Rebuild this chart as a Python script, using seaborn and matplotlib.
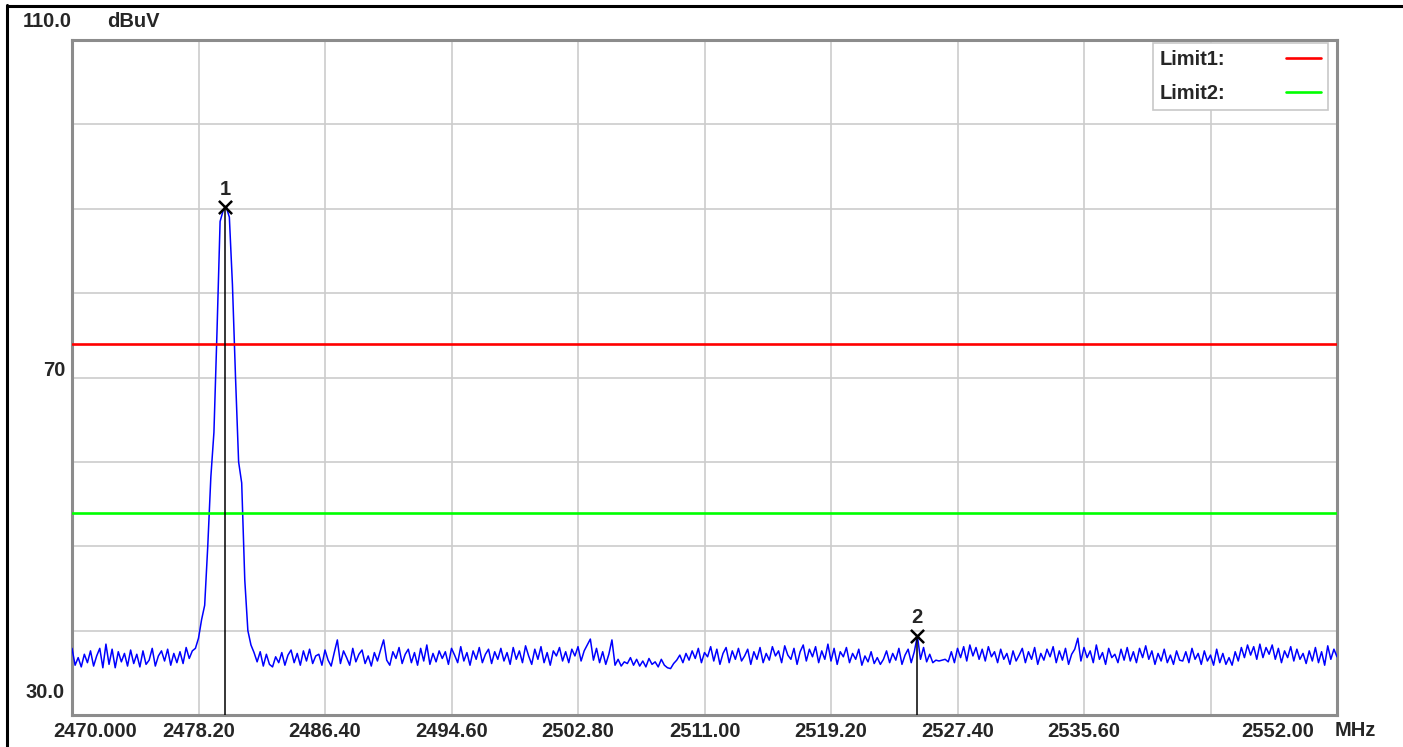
"""Spectrum analyser screenshot: 2.4 GHz band sweep with two markers and limit lines"""

import numpy as np
import seaborn as sns
import matplotlib.pyplot as plt
from matplotlib.lines import Line2D
from matplotlib.transforms import ScaledTranslation

# sweep settings
F_START = 2470.0
F_STOP = 2552.0
N_POINTS = 411

# trace level in dBuV (0.2 MHz per point)
NOISE_LOW = [
    37.9, 35.9, 36.8, 35.7, 37.2, 36.2, 37.6, 35.8, 37.0, 37.9, 35.6, 38.4, 36.0, 37.8, 35.6, 37.5, 36.3, 37.3, 35.8, 37.7,
    36.1, 37.2, 35.7, 37.6, 36.0, 36.5, 37.9, 35.8, 37.0, 37.6, 36.4, 37.8, 35.9, 37.3, 36.2, 37.5, 36.1, 38.0, 36.7, 37.6,
]
PEAK = [
    37.9, 39.1, 41.3, 43.0, 50.0, 58.2, 63.5, 75.5, 88.5, 89.8, 90.2, 89.0, 81.0, 70.0, 60.0, 57.5, 46.0, 40.0, 38.3, 37.4,
]
NOISE_HIGH = [
    36.3, 37.5, 35.8, 37.2, 36.0, 35.7, 36.9, 36.2, 37.4, 35.9, 37.1, 37.7, 36.2, 37.3, 35.9, 37.6, 36.4, 37.8, 36.1, 37.0,
    37.2, 35.9, 37.7, 36.5, 35.8, 37.4, 38.9, 36.1, 37.6, 36.8, 35.9, 37.9, 36.3, 37.2, 37.7, 36.1, 37.0, 35.8, 37.4, 36.4,
    37.7, 38.9, 36.5, 35.9, 37.5, 36.7, 38.0, 36.1, 37.2, 37.8, 36.2, 37.4, 35.9, 37.9, 36.4, 38.3, 36.0, 37.3, 36.3, 37.6,
    36.7, 37.5, 36.0, 37.9, 37.1, 36.2, 38.1, 36.4, 37.4, 35.9, 37.6, 36.6, 38.0, 36.2, 37.2, 37.8, 36.1, 37.5, 36.6, 37.9,
    36.4, 37.4, 36.0, 38.0, 36.6, 37.6, 36.2, 38.2, 37.0, 36.0, 37.8, 36.6, 38.1, 36.2, 37.4, 35.9, 37.6, 37.0, 38.0, 36.4,
    37.5, 36.2, 37.8, 37.0, 38.1, 36.4, 37.6, 38.3, 39.0, 36.5, 37.9, 36.2, 37.5, 36.0, 37.2, 38.9, 35.9, 36.6, 35.8, 36.3,
    36.1, 36.8, 35.9, 36.6, 35.8, 36.4, 35.7, 36.7, 36.0, 36.3, 35.7, 36.6, 35.9, 35.6, 35.5, 36.1, 36.5, 37.1, 36.2, 37.3,
    36.5, 37.6, 36.7, 37.9, 36.2, 37.4, 36.9, 38.1, 36.4, 37.8, 36.0, 37.3, 38.0, 36.2, 37.6, 36.6, 37.9, 36.4, 37.0, 37.8,
    36.0, 37.5, 36.6, 38.0, 36.2, 37.3, 36.5, 38.1, 37.0, 37.6, 36.2, 38.2, 37.1, 36.6, 37.9, 36.0, 37.5, 38.3, 36.4, 37.8,
    36.9, 38.1, 36.2, 37.6, 36.6, 38.4, 36.4, 37.9, 36.0, 37.5, 36.9, 38.0, 36.2, 37.3, 36.6, 37.8, 35.9, 37.0, 36.3, 37.5,
    36.1, 36.8, 36.0, 36.6, 37.6, 36.2, 37.3, 36.5, 37.9, 36.0, 37.1, 37.8, 36.2, 37.5, 39.4, 36.6, 38.0, 36.3, 37.2, 36.2,
    36.5, 36.4, 36.5, 36.6, 36.3, 37.5, 36.2, 37.9, 36.8, 38.1, 36.4, 38.3, 37.0, 38.0, 36.6, 37.8, 36.4, 38.1, 36.9, 37.5,
    36.2, 37.8, 36.6, 37.3, 36.0, 37.6, 36.4, 37.1, 37.9, 36.2, 37.5, 36.6, 38.0, 36.0, 37.3, 36.5, 37.8, 36.9, 38.1, 36.2,
    37.6, 36.5, 37.9, 36.0, 37.2, 37.8, 39.1, 36.4, 38.0, 36.8, 37.6, 36.2, 38.3, 36.6, 37.4, 36.0, 37.9, 36.8, 37.2, 36.2,
    37.8, 36.5, 38.0, 36.4, 37.5, 36.2, 37.9, 36.8, 38.2, 36.6, 37.6, 36.0, 37.3, 36.4, 37.8, 36.2, 37.1, 36.0, 37.6, 36.5,
    36.4, 37.5, 36.2, 37.9, 36.6, 37.3, 36.0, 37.6, 36.4, 37.1, 35.9, 37.8, 36.2, 37.3, 36.0, 36.8, 35.9, 37.5, 36.4, 38.0,
    36.8, 38.3, 37.1, 38.1, 36.6, 38.4, 36.8, 38.0, 37.2, 38.3, 36.6, 37.9, 36.2, 37.6, 36.8, 38.1, 36.4, 37.8, 36.6, 37.3,
    36.1, 37.6, 36.4, 38.0, 36.2, 37.5, 35.9, 38.2, 36.6, 37.8, 36.9,
]

LIMIT_NAME = ["Limit1:", "Limit2:"]
LIMIT_LEVEL = [74, 54]
LIMIT_COLOR = ["#ff0000", "#00ff00"]

MARKER_ID = ["1", "2"]
MARKER_FREQ = [2479.92, 2524.77]
MARKER_LEVEL = [90.2, 39.4]

XTICK_LABELS = ["2470.000", "2478.20", "2486.40", "2494.60", "2502.80", "2511.00",
                "2519.20", "2527.40", "2535.60", "", "2552.00"]
Y_MIN, Y_MAX = 30, 110

freq = np.linspace(F_START, F_STOP, N_POINTS)
level = np.array(NOISE_LOW + PEAK + NOISE_HIGH)

sns.set_style("white")
plt.rcParams["font.family"] = ["Liberation Sans", "DejaVu Sans"]
plt.rcParams["font.weight"] = "bold"
plt.rcParams["font.size"] = 14.5

W, H = 1403, 747
fig = plt.figure(figsize=(W / 100, H / 100), dpi=100)
ax = fig.add_axes([72 / W, 1 - 715 / H, 1265 / W, 675 / H])

# black frame of the instrument window
fig.add_artist(Line2D([7 / W, 7 / W], [0, 1 - 5 / H], color="black", lw=2.2))
fig.add_artist(Line2D([7 / W, 1], [1 - 5.5 / H, 1 - 5.5 / H], color="black", lw=2.2))

sns.lineplot(x=freq, y=level, ax=ax, color="#0000ff", linewidth=1.1,
             estimator=None, zorder=3)

for name, lvl, col in zip(LIMIT_NAME, LIMIT_LEVEL, LIMIT_COLOR):
    ax.axhline(lvl, color=col, lw=1.9, label=name, zorder=4)

ax.vlines(MARKER_FREQ, Y_MIN, MARKER_LEVEL, color="black", lw=1.1, zorder=5)
sns.scatterplot(x=MARKER_FREQ, y=MARKER_LEVEL, ax=ax, marker="x", s=90,
                color="black", linewidth=1.8, zorder=6, legend=False)
for mid, mf, ml in zip(MARKER_ID, MARKER_FREQ, MARKER_LEVEL):
    ax.annotate(mid, (mf, ml), xytext=(0, 18), textcoords="offset pixels",
                ha="center", va="center", zorder=7)

ax.set_xlim(F_START, F_STOP)
ax.set_ylim(Y_MIN, Y_MAX)
ax.set_xticks(np.linspace(F_START, F_STOP, 11))
ax.set_xticklabels(XTICK_LABELS)
ax.set_yticks(np.arange(Y_MIN, Y_MAX + 1, 10))
ax.set_yticklabels([])
ax.tick_params(length=0)
ax.tick_params(axis="x", pad=5)
ax.grid(True, color="#cccccc", lw=1.2)
for sp in ax.spines.values():
    sp.set_color("#8c8c8c")
    sp.set_linewidth(2.2)

# first / last frequency labels sit off their grid lines
xl = ax.get_xticklabels()
xl[0].set_transform(xl[0].get_transform() + ScaledTranslation(0.23, 0, fig.dpi_scale_trans))
xl[-1].set_transform(xl[-1].get_transform() + ScaledTranslation(-0.59, 0, fig.dpi_scale_trans))
ax.annotate("MHz", (1, 0), xycoords="axes fraction", xytext=(-2, -15),
            textcoords="offset pixels", ha="left", va="center")

# y scale labels
ax.annotate("110.0", (0, 1), xycoords="axes fraction", xytext=(-49, 18.5),
            textcoords="offset pixels", ha="left", va="center")
ax.annotate("dBuV", (0, 1), xycoords="axes fraction", xytext=(35, 18.5),
            textcoords="offset pixels", ha="left", va="center")
ax.annotate("70", (0, 70), xycoords=("axes fraction", "data"), xytext=(-7, 6.5),
            textcoords="offset pixels", ha="right", va="center")
ax.annotate("30.0", (0, Y_MIN), xycoords=("axes fraction", "data"), xytext=(-7, 23),
            textcoords="offset pixels", ha="right", va="center")

leg = ax.legend(loc="upper right", bbox_to_anchor=(0.993, 0.996), markerfirst=False,
                frameon=True, fancybox=False, edgecolor="#c8c8c8", framealpha=1,
                borderaxespad=0, borderpad=0.35, handlelength=1.75,
                handletextpad=3.0, labelspacing=0.75)
leg.get_frame().set_linewidth(1.2)

fig.savefig("out.png", dpi=100)
